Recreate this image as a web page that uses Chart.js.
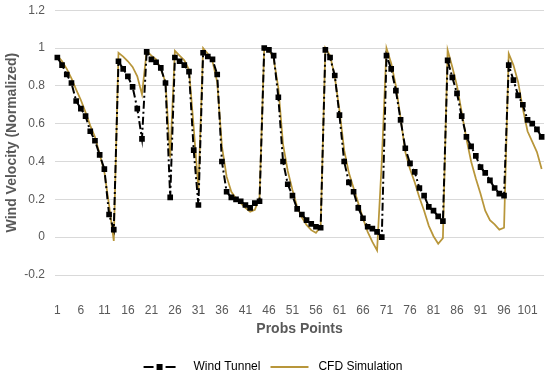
<!DOCTYPE html>
<html>
<head>
<meta charset="utf-8">
<script src="https://cdn.jsdelivr.net/npm/chart.js@4.4.1/dist/chart.umd.min.js"></script>
<style>
  html, body { margin: 0; padding: 0; background: #fff; }
</style>
</head>
<body>
<canvas id="chart" width="550" height="379"></canvas>
<script>
// probe points 1..104, only every 5th one gets a label
const pointCount = 104;
const probePoints = Array.from({ length: pointCount }, (_, i) => String(i + 1));
const shownTicks = ['1','6','11','16','21','26','31','36','41','46','51','56','61','66','71','76','81','86','91','96','101'];

const windTunnel = [
  0.95, 0.91, 0.86, 0.815, 0.72, 0.68, 0.64, 0.56, 0.51, 0.435, 0.36, 0.12, 0.04,
  0.93, 0.89, 0.85, 0.795, 0.68, 0.52,
  0.98, 0.94, 0.925, 0.895, 0.815, 0.21,
  0.95, 0.93, 0.91, 0.875, 0.46, 0.17,
  0.975, 0.955, 0.94, 0.86, 0.40, 0.24, 0.21, 0.20, 0.19, 0.17, 0.155, 0.18, 0.19,
  1.0, 0.99, 0.96, 0.74, 0.40, 0.28, 0.22, 0.15, 0.12, 0.09, 0.07, 0.055, 0.05,
  0.99, 0.95, 0.855, 0.645, 0.40, 0.29, 0.24, 0.155, 0.10, 0.055, 0.045, 0.028, 0.0,
  0.96, 0.89, 0.775, 0.62, 0.47, 0.39, 0.345, 0.26, 0.22, 0.16, 0.14, 0.11, 0.085,
  0.935, 0.845, 0.76, 0.64, 0.53, 0.48, 0.43, 0.37, 0.34, 0.30, 0.26, 0.23, 0.22,
  0.91, 0.83, 0.75, 0.70, 0.62, 0.60, 0.57, 0.53
];

const cfdSimulation = [
  0.96, 0.93, 0.89, 0.84, 0.78, 0.725, 0.66, 0.59, 0.53, 0.44, 0.345, 0.17, -0.02,
  0.975, 0.955, 0.93, 0.90, 0.85, 0.755,
  0.985, 0.96, 0.94, 0.89, 0.82, 0.42,
  0.985, 0.96, 0.935, 0.885, 0.58, 0.25,
  1.0, 0.97, 0.93, 0.82, 0.48, 0.32, 0.24, 0.205, 0.18, 0.155, 0.135, 0.145, 0.21,
  1.0, 0.99, 0.945, 0.79, 0.49, 0.35, 0.25, 0.16, 0.105, 0.065, 0.037, 0.023, 0.055,
  1.0, 0.96, 0.85, 0.67, 0.46, 0.34, 0.26, 0.18, 0.10, 0.028, -0.025, -0.07, 0.40,
  1.0, 0.92, 0.80, 0.63, 0.45, 0.36, 0.29, 0.21, 0.14, 0.06, 0.005, -0.035, -0.005,
  0.99, 0.90, 0.80, 0.66, 0.52, 0.40, 0.31, 0.23, 0.14, 0.09, 0.068, 0.04, 0.05,
  0.97, 0.91, 0.82, 0.68, 0.56, 0.505, 0.45, 0.36
];

const textColor = '#595959';
const gridColor = '#d9d9d9';
const cfdColor = '#b8963a';

Chart.defaults.font.family = '"Liberation Sans", Arial, sans-serif';
Chart.defaults.color = textColor;

// little legend samples drawn like the excel ones
function legendSample(kind){
  const c = document.createElement('canvas');
  c.width = 46; c.height = 10;
  const g = c.getContext('2d');
  g.lineWidth = 2;
  if (kind === 'wt') {
    g.strokeStyle = '#000';
    g.beginPath(); g.moveTo(2, 5); g.lineTo(12, 5); g.moveTo(24, 5); g.lineTo(34, 5); g.stroke();
    g.fillStyle = '#000';
    g.fillRect(15, 2, 6, 6);
  } else {
    g.strokeStyle = cfdColor;
    g.beginPath(); g.moveTo(4, 5); g.lineTo(42, 5); g.stroke();
  }
  return c;
}
const samples = [legendSample('wt'), legendSample('cfd')];

const ctx = document.getElementById('chart').getContext('2d');
new Chart(ctx, {
  type: 'line',
  data: {
    labels: probePoints,
    datasets: [
      {
        label: 'Wind Tunnel', data: windTunnel,
        borderColor: '#000', backgroundColor: '#000', borderWidth: 2,
        borderDash: [8, 3, 2, 3],
        pointStyle: 'rect', pointRadius: 4, pointBorderWidth: 0,
        pointBackgroundColor: '#000', tension: 0
      },
      {
        label: 'CFD Simulation', data: cfdSimulation,
        borderColor: cfdColor, backgroundColor: cfdColor, borderWidth: 1.75,
        pointRadius: 0, tension: 0
      }
    ]
  },
  options: {
    responsive: false, animation: false, devicePixelRatio: 1,
    // negative bottom so the legend sits a bit lower, like the original
    layout: { padding: { top: 10, right: 6, left: 0, bottom: -4 } },
    scales: {
      x: {
        offset: true,
        // tick marks are hidden, tickLength only pushes the labels down
        grid: { display: false, drawTicks: true, tickLength: 25 },
        border: { display: false },
        ticks: {
          autoSkip: false, maxRotation: 0, minRotation: 0, padding: 3,
          font: { size: 12 }, color: textColor,
          callback: (v, i) => shownTicks.includes(probePoints[i]) ? probePoints[i] : null
        },
        title: { display: true, text: 'Probs Points', color: textColor,
                 font: { size: 14, weight: 'bold' }, padding: { top: 0, bottom: 17 } },
        afterFit: s => { s.height = 80; }
      },
      y: {
        min: -0.2, max: 1.2,
        grid: { color: gridColor, drawTicks: true, tickLength: 7, tickColor: 'transparent', lineWidth: 1 },
        border: { display: false },
        ticks: { stepSize: 0.2, padding: 3, font: { size: 12 }, color: textColor,
                 callback: v => String(Math.round(v * 10) / 10) },
        title: { display: true, text: 'Wind Velocity (Normalized)', color: textColor,
                 font: { size: 14, weight: 'bold' }, padding: { top: 4, bottom: 0 } },
        afterFit: s => { s.width = 55; }
      }
    },
    plugins: {
      legend: {
        position: 'bottom',
        labels: {
          usePointStyle: true, pointStyleWidth: 46, padding: 6,
          font: { size: 12 }, color: textColor,
          generateLabels: chart => chart.data.datasets.map((d, i) => ({
            text: d.label, pointStyle: samples[i], fillStyle: 'transparent',
            strokeStyle: 'transparent', lineWidth: 0, datasetIndex: i, hidden: false
          }))
        }
      },
      tooltip: { enabled: false }
    }
  }
});
</script>
</body>
</html>
